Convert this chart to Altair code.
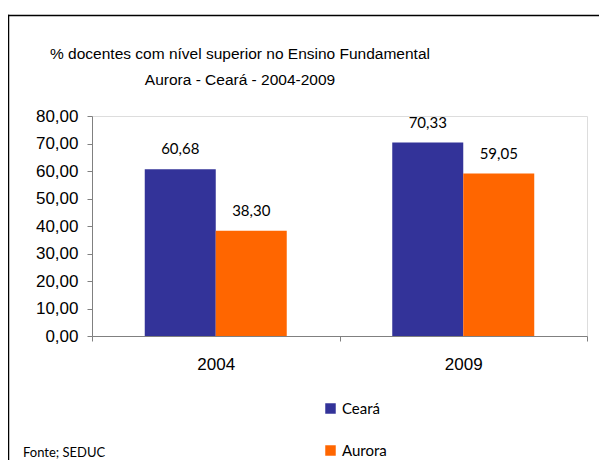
import altair as alt
import pandas as pd

anos = ["2004", "2009"]
series = ["Ceará", "Aurora"]
ceara = [60.68, 70.33]
aurora = [38.30, 59.05]
cores = ["#333399", "#FF6600"]
titulo1 = "% docentes com nível  superior no Ensino Fundamental"
titulo2 = "Aurora  -  Ceará - 2004-2009"
fonte = "Fonte; SEDUC"

rows = []
for i, a in enumerate(anos):
    rows.append({"ano": a, "serie": series[0], "valor": ceara[i]})
    rows.append({"ano": a, "serie": series[1], "valor": aurora[i]})
df = pd.DataFrame(rows)

W, H = 495, 220
AX = "#808080"
SANS = "Liberation Sans"
CAL = "Lato, Carlito, Calibri, sans-serif"

x = alt.X("ano:N", title=None, sort=anos,
          scale=alt.Scale(paddingInner=0, paddingOuter=0),
          axis=alt.Axis(labelAngle=0, tickBand="extent", domainColor=AX, tickColor=AX,
                        tickSize=5, labelPadding=15, labelFont=SANS,
                        labelFontSize=17, labelColor="#000000", grid=False))
xo = alt.XOffset("serie:N", sort=series,
                 scale=alt.Scale(paddingInner=0, paddingOuter=0.743))
y = alt.Y("valor:Q", title=None,
          scale=alt.Scale(domain=[0, 80], nice=False),
          axis=alt.Axis(values=list(range(0, 81, 10)), grid=False, domainColor=AX, tickColor=AX,
                        tickSize=5, labelPadding=9, labelFont=SANS, labelFontSize=17,
                        labelColor="#000000", labelOverlap=False, labelBound=False,
                        labelExpr="replace(format(datum.value, '.2f'), '.', ',')"))
color = alt.Color("serie:N", sort=series,
                  scale=alt.Scale(domain=series, range=cores),
                  legend=alt.Legend(title=None, orient="none", legendX=231, legendY=285,
                                    symbolType="square", symbolSize=110, symbolStrokeWidth=0,
                                    labelFont=CAL, labelFontSize=15, labelColor="#000000",
                                    labelOffset=4, rowPadding=26))

bars = alt.Chart(df).mark_bar(size=71).encode(x=x, xOffset=xo, y=y, color=color)

labels = alt.Chart(df).transform_calculate(
    txt="replace(format(datum.valor, '.2f'), '.', ',')"
).mark_text(dy=-20, font=CAL, fontSize=15, color="#000000").encode(
    x=x, xOffset=xo, y=y, text="txt:N")

t1 = alt.Chart(pd.DataFrame({"t": [titulo1]})).mark_text(
    font=SANS, fontSize=15.5, color="#000000", baseline="middle").encode(
    x=alt.value(148), y=alt.value(-62), text="t:N")
t2 = alt.Chart(pd.DataFrame({"t": [titulo2]})).mark_text(
    font=SANS, fontSize=15.5, color="#000000", baseline="middle").encode(
    x=alt.value(148), y=alt.value(-36), text="t:N")

src = alt.Chart(pd.DataFrame({"t": [fonte]})).mark_text(font=CAL, fontSize=13, align="left",
                                                         baseline="middle", color="#000000").encode(
    x=alt.value(-69), y=alt.value(337), text="t:N")

one = pd.DataFrame({"a": [0]})
top_line = alt.Chart(one).mark_rule(color="#000000", strokeWidth=1.5).encode(
    x=alt.value(-84.25), x2=alt.value(540), y=alt.value(-100.5))
left_line = alt.Chart(one).mark_rule(color="#000000", strokeWidth=1.5).encode(
    x=alt.value(-83.5), y=alt.value(-101.25), y2=alt.value(380))

chart = alt.layer(top_line, left_line, bars, labels, t1, t2, src).properties(
    width=W, height=H,
    padding={"left": 84, "top": 108, "right": 12, "bottom": 124},
    autosize=alt.AutoSizeParams(type="none"),
).configure_view(stroke=None).configure(background="#ffffff")

chart.save("out.html", embed_options={"renderer": "svg", "actions": False})
